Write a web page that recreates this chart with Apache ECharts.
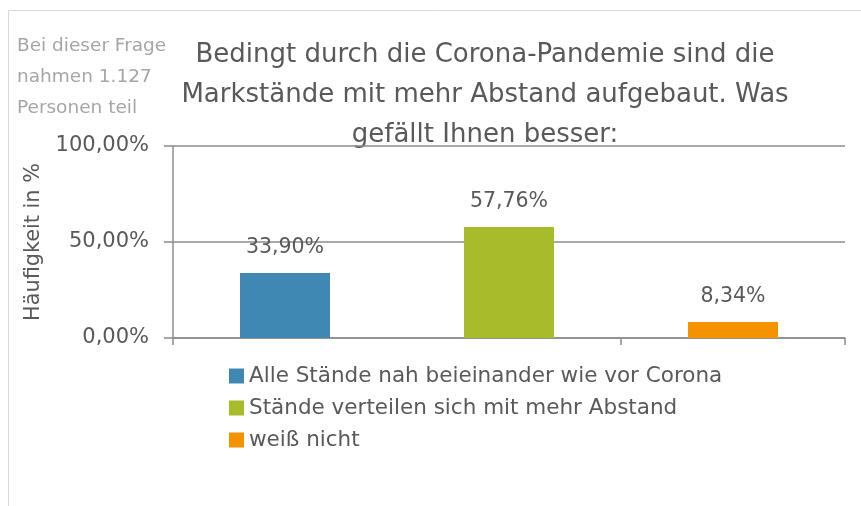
<!DOCTYPE html>
<html><head><meta charset="utf-8">
<script src="https://cdn.jsdelivr.net/npm/echarts@6/dist/echarts.min.js"></script>
<style>html,body{margin:0;padding:0;background:#fff}#c{width:861px;height:506px}</style>
</head><body><div id="c"></div>
<script>
const categories = ["Alle Stände nah beieinander wie vor Corona", "Stände verteilen sich mit mehr Abstand", "weiß nicht"];
const values = [33.90, 57.76, 8.34];
const yTicks = [0, 50, 100];
const titleText = "Bedingt durch die Corona-Pandemie sind die\nMarkstände mit mehr Abstand aufgebaut. Was\ngefällt Ihnen besser:";
const noteText = "Bei dieser Frage\nnahmen 1.127\nPersonen teil";
const yName = "Häufigkeit in %";
const colors = ["#4088b4", "#a8bb2a", "#f59200"];

const FONT = "DejaVu Sans";
const fmt = v => v.toFixed(2).replace('.', ',') + '%';

const series = categories.map((name, i) => ({
  name: name,
  type: 'bar',
  stack: 'all',
  barWidth: 90,
  itemStyle: { color: colors[i] },
  data: categories.map((c, j) => j === i ? values[i] : '-'),
  label: {
    show: true, position: 'top', distance: 15,
    color: '#595959', fontFamily: FONT, fontSize: 20.5,
    formatter: p => fmt(p.value)
  }
}));

const chart = echarts.init(document.getElementById('c'), null, {renderer: 'canvas'});
chart.setOption({
  animation: false,
  textStyle: { fontFamily: FONT },
  graphic: [
    { type: 'rect', shape: { x: 8.5, y: 10.5, width: 1200, height: 800 },
      style: { fill: 'none', stroke: '#d9d9d9', lineWidth: 1 }, silent: true, z: -10 },
    { type: 'text', x: 17, y: 31,
      style: { text: noteText, fill: '#a6a6a6', fontFamily: FONT, fontSize: 18.5, lineHeight: 31,
        textAlign: 'left', textVerticalAlign: 'top' } },
    { type: 'text', x: 485, y: 35,
      style: { text: titleText, fill: '#595959', fontFamily: FONT, fontSize: 26, lineHeight: 40,
        textAlign: 'center', textVerticalAlign: 'top' } }
  ],
  grid: { left: 173, right: 16, top: 146, bottom: 168, containLabel: false },
  legend: {
    orient: 'vertical', left: 224, top: 360,
    itemWidth: 15, itemHeight: 15, itemGap: 10,
    icon: 'rect',
    textStyle: { color: '#595959', fontFamily: FONT, fontSize: 21.5 },
    data: categories
  },
  xAxis: {
    type: 'category', data: categories,
    axisLine: { lineStyle: { color: '#8c8c8c', width: 1.5 } },
    axisTick: { show: true, length: 7, lineStyle: { color: '#8c8c8c', width: 1.5 } },
    axisLabel: { show: false }
  },
  yAxis: {
    type: 'value', min: 0, max: 100, interval: 50,
    name: yName, nameLocation: 'middle', nameGap: 129, nameRotate: 90,
    nameTextStyle: { color: '#595959', fontFamily: FONT, fontSize: 20.8 },
    axisLine: { show: true, lineStyle: { color: '#8c8c8c', width: 1.5 } },
    axisTick: { show: true, length: 9, lineStyle: { color: '#8c8c8c', width: 1.5 } },
    axisLabel: { color: '#595959', fontFamily: FONT, fontSize: 21, margin: 24,
      formatter: v => yTicks.includes(v) ? fmt(v) : '' },
    splitLine: { show: true, lineStyle: { color: '#8c8c8c', width: 1.5 } }
  },
  series: series
});
</script></body></html>
